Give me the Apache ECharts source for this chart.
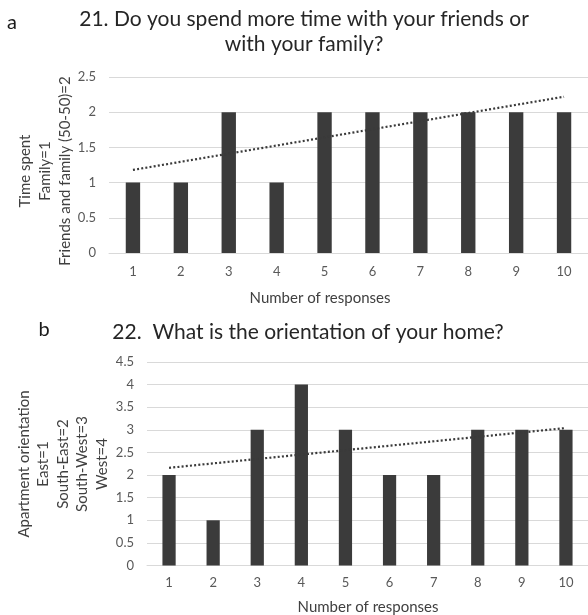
<!DOCTYPE html>
<html>
<head>
<meta charset="utf-8">
<script src="https://cdn.jsdelivr.net/npm/echarts@6/dist/echarts.min.js"></script>
<style>
  html, body { margin: 0; padding: 0; background: #fff; }
  #chart { width: 588px; height: 615px; }
</style>
</head>
<body>
<div id="chart"></div>
<script>
// Respondents 1..10
const categories = ['1', '2', '3', '4', '5', '6', '7', '8', '9', '10'];

// Q21: Family=1, Friends and family (50-50)=2
const timeSpent = [1, 1, 2, 1, 2, 2, 2, 2, 2, 2];
// Linear trend of Q21, value at first and last respondent
const timeSpentTrend = [1.18, 2.22];

// Q22: East=1, South-East=2, South-West=3, West=4
const orientation = [2, 1, 3, 4, 3, 2, 2, 3, 3, 3];
// Linear trend of Q22, value at first and last respondent
const orientationTrend = [2.16, 3.04];

const yTicksA = { min: 0, max: 2.5, interval: 0.5 };
const yTicksB = { min: 0, max: 4.5, interval: 0.5 };

const FONT = 'Lato, "Open Sans", sans-serif';
const GRID_COLOR = '#d9d9d9';
const BAR_COLOR = '#3b3b3b';
const LABEL_COLOR = '#595959';

// Trend as a straight segment between the first and last category
function trendData(ends) {
  return categories.map((c, i) =>
    i === 0 ? ends[0] : (i === categories.length - 1 ? ends[1] : '-'));
}

function xAxisFor(gridIndex, margin) {
  return {
    type: 'category',
    gridIndex,
    data: categories,
    axisTick: { show: false },
    axisLine: { lineStyle: { color: GRID_COLOR, width: 1 } },
    axisLabel: { color: LABEL_COLOR, fontFamily: FONT, fontSize: 13, margin }
  };
}

function yAxisFor(gridIndex, ticks) {
  return {
    type: 'value',
    gridIndex,
    min: ticks.min,
    max: ticks.max,
    interval: ticks.interval,
    axisLine: { show: false },
    axisTick: { show: false },
    splitLine: { lineStyle: { color: GRID_COLOR, width: 1 } },
    axisLabel: { color: LABEL_COLOR, fontFamily: FONT, fontSize: 13, margin: 13 }
  };
}

function barSeries(idx, data) {
  return {
    type: 'bar',
    xAxisIndex: idx,
    yAxisIndex: idx,
    data,
    barWidth: '30%',
    itemStyle: { color: BAR_COLOR },
    silent: true
  };
}

function trendSeries(idx, ends) {
  return {
    type: 'line',
    xAxisIndex: idx,
    yAxisIndex: idx,
    data: trendData(ends),
    connectNulls: true,
    showSymbol: false,
    symbol: 'none',
    silent: true,
    lineStyle: { color: '#3a3a3a', width: 2.2, type: [2, 2.2] },
    z: 5
  };
}

function text(x, y, str, opts) {
  return Object.assign({
    type: 'text',
    x, y,
    silent: true,
    style: Object.assign({
      text: str,
      align: 'center',
      verticalAlign: 'middle',
      fontFamily: FONT
    }, opts.style)
  }, opts.el || {});
}

const chart = echarts.init(document.getElementById('chart'), null, { renderer: 'canvas' });

chart.setOption({
  backgroundColor: '#ffffff',
  animation: false,
  grid: [
    { left: 109, right: -6, top: 77, height: 176 },
    { left: 147, right: -2, top: 362, height: 203.5 }
  ],
  xAxis: [xAxisFor(0, 12), xAxisFor(1, 11)],
  yAxis: [yAxisFor(0, yTicksA), yAxisFor(1, yTicksB)],
  series: [
    barSeries(0, timeSpent),
    trendSeries(0, timeSpentTrend),
    barSeries(1, orientation),
    trendSeries(1, orientationTrend)
  ],
  graphic: [
    // panel letters
    text(12, 23, 'a', { style: { fontSize: 20, fill: '#1a1a1a' } }),
    text(44, 330, 'b', { style: { fontSize: 20, fill: '#1a1a1a' } }),
    // titles
    text(304, 32, '21. Do you spend more time with your friends or\nwith your family?',
      { style: { fontSize: 21, lineHeight: 25, fill: '#262626' } }),
    text(308, 332, '22.  What is the orientation of your home?',
      { style: { fontSize: 21, fill: '#262626' } }),
    // x-axis titles
    text(320, 298, 'Number of responses', { style: { fontSize: 15, fill: '#404040' } }),
    text(368, 607, 'Number of responses', { style: { fontSize: 15, fill: '#404040' } }),
    // y-axis titles
    text(45, 171, 'Time spent\nFamily=1\nFriends and family (50-50)=2',
      { style: { fontSize: 15, lineHeight: 20, fill: '#404040' }, el: { rotation: Math.PI / 2 } }),
    text(63, 464, 'Apartment orientation\nEast=1\nSouth-East=2\nSouth-West=3\nWest=4',
      { style: { fontSize: 15, lineHeight: 19.5, fill: '#404040' }, el: { rotation: Math.PI / 2 } })
  ]
});
</script>
</body>
</html>
